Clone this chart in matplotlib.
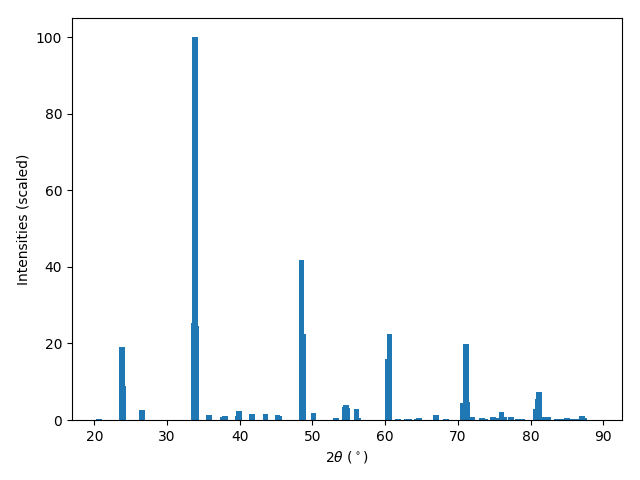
import matplotlib
matplotlib.use('Agg')
import matplotlib.pyplot as plt

# peak positions (2theta, degrees) and scaled intensities
two_theta = [20.64, 23.75, 23.9, 26.52, 33.66, 33.8, 33.96, 35.78, 37.65, 37.94,
             39.7, 39.86, 41.7, 43.55, 45.2, 45.35, 48.49, 48.64, 50.14, 53.2,
             54.5, 54.65, 54.8, 56.04, 56.3, 60.4, 60.58, 61.8, 63.0, 63.3,
             64.4, 64.68, 67.0, 68.4, 70.7, 71.13, 71.28, 71.96, 73.3, 73.7,
             74.8, 75.25, 76.0, 76.4, 77.3, 78.25, 78.8, 80.7, 81.0, 81.15,
             82.0, 82.4, 83.6, 84.2, 84.98, 85.8, 86.2, 87.04, 87.33]
intensities = [0.3, 19.0, 8.8, 2.6, 25.4, 100.0, 24.6, 1.3, 0.8, 1.0,
               1.0, 2.3, 1.5, 1.5, 1.3, 1.0, 41.8, 22.5, 1.8, 0.5,
               3.3, 3.9, 3.2, 2.9, 0.5, 16.0, 22.4, 0.3, 0.3, 0.3,
               0.3, 0.6, 1.3, 0.3, 4.4, 19.9, 4.7, 0.8, 0.5, 0.3,
               0.8, 0.5, 2.1, 0.8, 0.8, 0.3, 0.3, 2.9, 5.5, 7.3,
               0.8, 0.8, 0.3, 0.3, 0.6, 0.3, 0.3, 1.0, 0.5]

fig, ax = plt.subplots(figsize=(6.4, 4.8), dpi=100)

ax.bar(two_theta, intensities)

ax.set_xlim(16.93, 92.57)
ax.set_xlabel(r'$2\theta$ ($^\circ$)')
ax.set_ylabel('Intensities (scaled)')

fig.subplots_adjust(left=0.1125, right=0.972, top=0.9625, bottom=0.125)
plt.savefig('out.png')
